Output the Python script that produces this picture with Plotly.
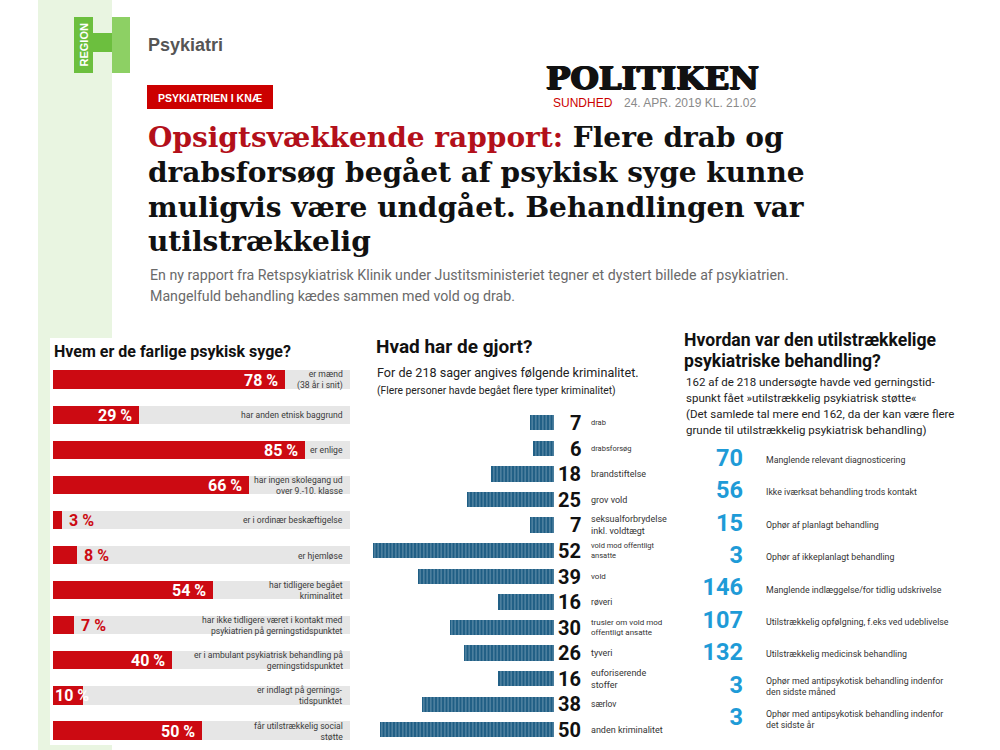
import plotly.graph_objects as go

# ---------------- data ----------------
who_labels = [
    "er mænd<br>(38 år i snit)",
    "har anden etnisk baggrund",
    "er enlige",
    "har ingen skolegang ud<br>over 9.-10. klasse",
    "er i ordinær beskæftigelse",
    "er hjemløse",
    "har tidligere begået<br>kriminalitet",
    "har ikke tidligere været i kontakt med<br>psykiatrien på gerningstidspunktet",
    "er i ambulant psykiatrisk behandling på<br>gerningstidspunktet",
    "er indlagt på gernings-<br>tidspunktet",
    "får utilstrækkelig social<br>støtte",
]
who_pct = [78, 29, 85, 66, 3, 8, 54, 7, 40, 10, 50]

crime_labels = [
    "drab", "drabsforsøg", "brandstiftelse", "grov vold",
    "seksualforbrydelse<br>inkl. voldtægt", "vold mod offentligt<br>ansatte",
    "vold", "røveri", "trusler om vold mod<br>offentligt ansatte", "tyveri",
    "euforiserende<br>stoffer", "særlov", "anden kriminalitet",
]
crime_counts = [7, 6, 18, 25, 7, 52, 39, 16, 30, 26, 16, 38, 50]

treat_labels = [
    "Manglende relevant diagnosticering",
    "Ikke iværksat behandling trods kontakt",
    "Ophør af planlagt behandling",
    "Ophør af ikkeplanlagt behandling",
    "Manglende indlæggelse/for tidlig udskrivelse",
    "Utilstrækkelig opfølgning, f.eks ved udeblivelse",
    "Utilstrækkelig medicinsk behandling",
    "Ophør med antipsykotisk behandling indenfor<br>den sidste måned",
    "Ophør med antipsykotisk behandling indenfor<br>det sidste år",
]
treat_counts = [70, 56, 15, 3, 146, 107, 132, 3, 3]

# ---------------- styles ----------------
W, H = 1000, 750
COND = "Roboto"
SANS = "Liberation Sans, Arial, sans-serif"
SERIF = "DejaVu Serif, serif"
RED = "#cc0a12"
BLUE_BAR = "#1f5e84"
BLUE_NUM = "#1e9bd7"
GREEN = "#6cbf3e"
BAND = "#e9f5e1"


def px(x):
    return x / W


def py(y):
    return 1 - y / H


fig = go.Figure()
shapes = []
ann = []


def rect(x0, y0, x1, y1, color):
    shapes.append(dict(type="rect", xref="paper", yref="paper",
                       x0=px(x0), x1=px(x1), y0=py(y1), y1=py(y0),
                       fillcolor=color, line=dict(width=0), layer="below"))


def text(x, y, t, size, color="#222", family=COND, xanchor="left", **kw):
    ann.append(dict(xref="paper", yref="paper", x=px(x), y=py(y), text=t,
                    showarrow=False, xanchor=xanchor, yanchor="middle",
                    font=dict(size=size, color=color, family=family), **kw))


# ---------------- header / background ----------------
rect(38, 0, 112, 750, BAND)
rect(50, 338, 362, 745, "white")
# logo H
rect(74, 17, 93, 73, GREEN)
rect(93, 33, 113, 52, GREEN)
rect(112, 17, 130, 73, "#8dd064")
ann.append(dict(xref="paper", yref="paper", x=px(83.5), y=py(45), text="<b>REGION</b>",
                showarrow=False, textangle=-90, xanchor="center", yanchor="middle",
                font=dict(size=11, color="white", family=SANS)))
text(146, 45, "<b>Psykiatri</b>", 18, "#555", SANS)
rect(147, 85, 273, 109, "#cc0000")
text(210, 97.5, "<b>PSYKIATRIEN I KNÆ</b>", 10.5, "white", SANS, xanchor="center")

ann.append(dict(xref="paper", yref="paper", x=px(652), y=py(78), text="<b>POLITIKEN</b>",
                showarrow=False, xanchor="center", yanchor="middle",
                font=dict(size=32.5, color="#111", family=SERIF,
                          shadow="1px 0 0 #111, -1px 0 0 #111, 0 1px 0 #111")))
text(551, 103, "SUNDHED", 12, "#cc0000", SANS)
text(622, 103, "24. APR. 2019 KL. 21.02", 12, "#8a8a8a", SANS)

title_lines = [
    "<span style='color:#b3101a'>Opsigtsvækkende rapport:</span> Flere drab og",
    "drabsforsøg begået af psykisk syge kunne",
    "muligvis være undgået. Behandlingen var",
    "utilstrækkelig",
]
for i, t in enumerate(title_lines):
    text(146, 138 + i * 34.5, "<b>" + t + "</b>", 28, "#111", SERIF)

text(148, 275, "En ny rapport fra Retspsykiatrisk Klinik under Justitsministeriet tegner et dystert billede af psykiatrien.",
     14.2, "#6a6a6a", COND)
text(148, 296, "Mangelfuld behandling kædes sammen med vold og drab.", 14.2, "#6a6a6a", COND)

# ---------------- left chart ----------------
n1 = len(who_pct)
fig.add_trace(go.Bar(x=[100] * n1, y=list(range(n1)), orientation="h",
                     marker=dict(color="#e6e6e6", line=dict(width=0)),
                     width=0.52, xaxis="x", yaxis="y", hoverinfo="skip"))
fig.add_trace(go.Bar(x=who_pct, y=list(range(n1)), orientation="h",
                     marker=dict(color=RED, line=dict(width=0)),
                     width=0.52, xaxis="x", yaxis="y"))
for i, (v, lab) in enumerate(zip(who_pct, who_labels)):
    inside = v >= 10
    tight = inside and v <= 12
    ann.append(dict(xref="x", yref="y", x=0 if tight else v, y=i, text=f"<b>{v} %</b>",
                    showarrow=False,
                    xanchor="left" if (tight or not inside) else "right", yanchor="middle",
                    xshift=0 if tight else (-5 if inside else 5),
                    font=dict(size=16, color="white" if inside else RED, family=COND)))
    ann.append(dict(xref="paper", yref="y", x=px(345), y=i, text=lab, showarrow=False,
                    xanchor="right", yanchor="middle", align="right",
                    font=dict(size=8.6, color="#3a3a3a", family=COND)))
text(52, 351, "<b>Hvem er de farlige psykisk syge?</b>", 16, "#111", COND)

# ---------------- middle chart ----------------
n2 = len(crime_counts)
fig.add_trace(go.Bar(x=crime_counts, y=list(range(n2)), orientation="h",
                     marker=dict(color=BLUE_BAR, line=dict(width=0),
                                 pattern=dict(shape="|", size=3.5, solidity=0.25,
                                              fgcolor="#d3e2ec", bgcolor=BLUE_BAR)),
                     width=0.6, xaxis="x2", yaxis="y2"))
lab_sizes = [7.5, 7.5, 9, 9, 9, 7.5, 8, 8.5, 8, 9, 9, 8.5, 9]
for i, (v, lab) in enumerate(zip(crime_counts, crime_labels)):
    ann.append(dict(xref="paper", yref="y2", x=px(583), y=i, text=f"<b>{v}</b>", showarrow=False,
                    xanchor="right", yanchor="middle",
                    font=dict(size=20, color="#111", family=COND)))
    ann.append(dict(xref="paper", yref="y2", x=px(589), y=i, text=lab, showarrow=False,
                    xanchor="left", yanchor="middle", align="left",
                    font=dict(size=lab_sizes[i], color="#333", family=COND)))
text(374, 346, "<b>Hvad har de gjort?</b>", 19, "#111", COND)
text(375, 372, "For de 218 sager angives følgende kriminalitet.", 12.6, "#222", COND)
text(375, 390, "(Flere personer havde begået flere typer kriminalitet)", 10.3, "#222", COND)

# ---------------- right chart ----------------
n3 = len(treat_counts)
fig.add_trace(go.Scatter(x=[0] * n3, y=list(range(n3)), mode="text",
                         text=[f"<b>{v}</b>" for v in treat_counts],
                         textposition="middle left", cliponaxis=False,
                         textfont=dict(size=23.5, color=BLUE_NUM, family=COND),
                         xaxis="x3", yaxis="y3", hoverinfo="skip"))
for i, lab in enumerate(treat_labels):
    ann.append(dict(xref="paper", yref="y3", x=px(764), y=i, text=lab, showarrow=False,
                    xanchor="left", yanchor="middle", align="left",
                    font=dict(size=8.8, color="#333", family=COND)))
text(682, 340, "<b>Hvordan var den utilstrækkelige</b>", 17.6, "#111", COND)
text(682, 361, "<b>psykiatriske behandling?</b>", 17.6, "#111", COND)
for i, t in enumerate([
    "162 af de 218 undersøgte havde ved gerningstid-",
    "spunkt fået »utilstrækkelig psykiatrisk støtte«",
    "(Det samlede tal mere end 162, da der kan være flere",
    "grunde til utilstrækkelig psykiatrisk behandling)",
]):
    text(684, 382 + i * 16, t, 11.5, "#222", COND)

hidden = dict(visible=False, showgrid=False, zeroline=False, fixedrange=True)
fig.update_layout(
    width=W, height=H, margin=dict(l=0, r=0, t=0, b=0),
    paper_bgcolor="white", plot_bgcolor="rgba(0,0,0,0)",
    showlegend=False, barmode="overlay", bargap=0,
    shapes=shapes, annotations=ann,
    xaxis=dict(domain=[px(53), px(350)], range=[0, 100], anchor="y", **hidden),
    yaxis=dict(domain=[1 - 748.55 / H, 1 - 362.45 / H], range=[10.5, -0.5], anchor="x", **hidden),
    xaxis2=dict(domain=[px(373), px(554)], range=[52, 0], anchor="y2", **hidden),
    yaxis2=dict(domain=[1 - 742.8 / H, 1 - 410.2 / H], range=[12.5, -0.5], anchor="x2", **hidden),
    xaxis3=dict(domain=[px(743), px(760)], range=[0, 1], anchor="y3", **hidden),
    yaxis3=dict(domain=[1 - 735.4 / H, 1 - 443.8 / H], range=[8.5, -0.5], anchor="x3", **hidden),
)

fig.write_html("out.html", config={"displayModeBar": False},
               post_script="document.body.style.margin='0';document.body.style.overflow='hidden';")
